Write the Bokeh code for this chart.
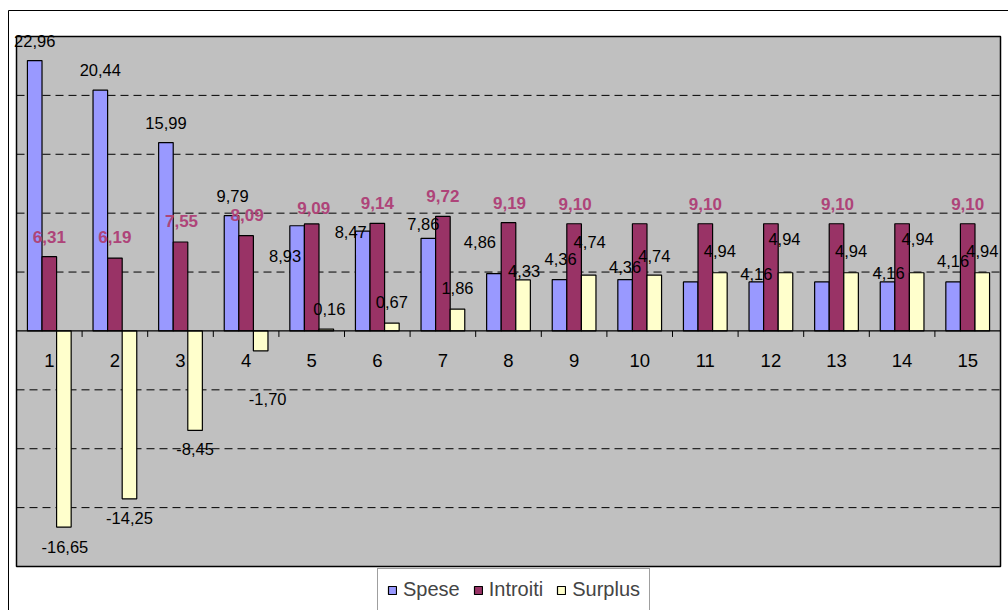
from bokeh.plotting import figure
from bokeh.models import Range1d, Legend, LegendItem, ColumnDataSource
from bokeh.transform import dodge
from bokeh.core.properties import value
from bokeh.embed import file_html
from bokeh.resources import INLINE

# ---------------- data ----------------
categories = list(range(1, 16))
spese = [22.96, 20.44, 15.99, 9.79, 8.93, 8.47, 7.86, 4.86, 4.36, 4.36, 4.16, 4.16, 4.16, 4.16, 4.16]
introiti = [6.31, 6.19, 7.55, 8.09, 9.09, 9.14, 9.72, 9.19, 9.10, 9.10, 9.10, 9.10, 9.10, 9.10, 9.10]
surplus = [-16.65, -14.25, -8.45, -1.70, 0.16, 0.67, 1.86, 4.33, 4.74, 4.74, 4.94, 4.94, 4.94, 4.94, 4.94]
series_names = ["Spese", "Introiti", "Surplus"]
tick_labels = [str(c) for c in categories]
y_min, y_max = -20, 25
y_grid_values = [-15, -10, -5, 5, 10, 15, 20]

# which data labels are visible in the reference
show_spese = [1, 1, 1, 1, 1, 1, 1, 1, 1, 1, 0, 1, 0, 1, 1]
show_introiti = [1, 1, 1, 1, 1, 1, 1, 1, 1, 0, 1, 0, 1, 0, 1]
show_surplus = [1] * 15

# ---------------- label placement (pixel offsets, style only) ----------------
spese_dx = [0, 0, 0, 1, -12, -12, -5, -14, 1, 0, 0, 0, 0, 1, 0]
spese_dy = [-20, -20, -20, -20, 30, 1, -14, -32, -21, -13, -20, -8, -20, -9, -21]
introiti_dx = [0, 0, 1, 1, 2, 0, 0, 1, 1, 0, 0, 0, 1, 0, 0]
introiti_dy = [-20, -21, -21, -21, -16, -20, -20, -20, -20, -20, -20, -20, -20, -20, -20]
surplus_dx = [1, 0, 0, 7, 3, 0, 0, 1, 1, 0, 0, -1, 0, 1, 0]
surplus_dy = [20, 19, 19, 48, -20, -21, -21, -9, -33, -19, -22, -34, -22, -34, -22]

# ---------------- layout (pixels) ----------------
W, H = 1008, 610
PA_L, PA_R, PA_T, PA_B = 16, 1000, 36, 566      # plot area in canvas pixels
OUT_L, OUT_T = 8, 10                            # outer chart border
x_lo, x_hi = categories[0] - 0.5, categories[-1] + 0.5
kx = (PA_R - PA_L) / (x_hi - x_lo)
ky = (PA_B - PA_T) / (y_max - y_min)
x_start = x_lo - PA_L / kx
x_end = x_hi + (W - PA_R) / kx
y_end = y_max + PA_T / ky
y_start = y_min - (H - PA_B) / ky

def px2x(px):
    return x_start + px / kx

def px2y(py):
    return y_end - py / ky

FONT = "Liberation Sans"
colors = ["#9999FF", "#993366", "#FFFFCC"]
bar_w = 2.0 / 3.0 / 3.0

def fmt(v):
    return f"{v:.2f}".replace(".", ",")

src = ColumnDataSource(dict(
    x=categories, spese=spese, introiti=introiti, surplus=surplus,
    spese_lbl=[fmt(v) if s else "" for v, s in zip(spese, show_spese)],
    introiti_lbl=[fmt(v) if s else "" for v, s in zip(introiti, show_introiti)],
    surplus_lbl=[fmt(v) if s else "" for v, s in zip(surplus, show_surplus)],
    sdx=spese_dx, sdy=spese_dy, idx=introiti_dx, idy=introiti_dy,
    udx=surplus_dx, udy=surplus_dy,
))

p = figure(width=W, height=H, output_backend="svg", toolbar_location=None,
           x_range=Range1d(x_start, x_end), y_range=Range1d(y_start, y_end),
           x_axis_type=None, y_axis_type=None,
           min_border=0, min_border_left=0, min_border_right=0,
           min_border_top=0, min_border_bottom=0)
p.background_fill_color = "white"
p.border_fill_color = "white"
p.outline_line_color = None
p.xgrid.visible = False
p.ygrid.visible = False

# outer chart border
p.quad(left=px2x(OUT_L), right=px2x(W + 20), top=px2y(OUT_T), bottom=px2y(H + 20),
       fill_color="white", line_color="black", line_width=1)
# plot area
p.quad(left=x_lo, right=x_hi, top=y_max, bottom=y_min,
       fill_color="#C0C0C0", line_color="black", line_width=1.5)
# dashed gridlines
p.segment(x0=[x_lo] * len(y_grid_values), x1=[x_hi] * len(y_grid_values),
          y0=y_grid_values, y1=y_grid_values,
          line_color="black", line_dash="8 5", line_width=1)

offsets = [-bar_w, 0.0, bar_w]
cols = ["spese", "introiti", "surplus"]
renderers = []
for col, off, c in zip(cols, offsets, colors):
    r = p.vbar(x=dodge("x", off, range=p.x_range), top=col, bottom=0, width=bar_w,
               source=src, fill_color=c, line_color="black", line_width=1.2)
    renderers.append(r)

# category axis at zero
p.segment(x0=[x_lo], x1=[x_hi], y0=[0], y1=[0], line_color="black", line_width=1.2)
bounds = [c + 0.5 for c in categories[:-1]]
p.segment(x0=bounds, x1=bounds, y0=[0] * len(bounds), y1=[-6 / ky] * len(bounds),
          line_color="black", line_width=1)
p.text(x=categories, y=[0] * len(categories), text=tick_labels, y_offset=30,
       text_align="center", text_baseline="middle",
       text_font=value(FONT), text_font_size="18.5px", text_color="black")

# data labels
p.text(x=dodge("x", -bar_w, range=p.x_range), y="spese", text="spese_lbl", source=src,
       x_offset="sdx", y_offset="sdy", text_align="center", text_baseline="middle",
       text_font=value(FONT), text_font_size="16.5px", text_color="black")
p.text(x=dodge("x", 0.0, range=p.x_range), y="introiti", text="introiti_lbl", source=src,
       x_offset="idx", y_offset="idy", text_align="center", text_baseline="middle",
       text_font=value(FONT), text_font_size="17px", text_font_style="bold", text_color="#AE4479")
p.text(x=dodge("x", bar_w, range=p.x_range), y="surplus", text="surplus_lbl", source=src,
       x_offset="udx", y_offset="udy", text_align="center", text_baseline="middle",
       text_font=value(FONT), text_font_size="16.5px", text_color="black")

legend = Legend(items=[LegendItem(label=n, renderers=[r]) for n, r in zip(series_names, renderers)],
                orientation="horizontal", location=(377, -1))
legend.label_text_font = FONT
legend.label_text_font_size = "20px"
legend.label_height = 20
legend.glyph_width = 10
legend.glyph_height = 10
legend.label_standoff = 6
legend.spacing = 13
legend.padding = 9
legend.margin = 0
legend.border_line_color = "#404040"
legend.border_line_width = 1
legend.background_fill_color = "white"
p.add_layout(legend)

open("out.html", "w").write(file_html(p, INLINE))
